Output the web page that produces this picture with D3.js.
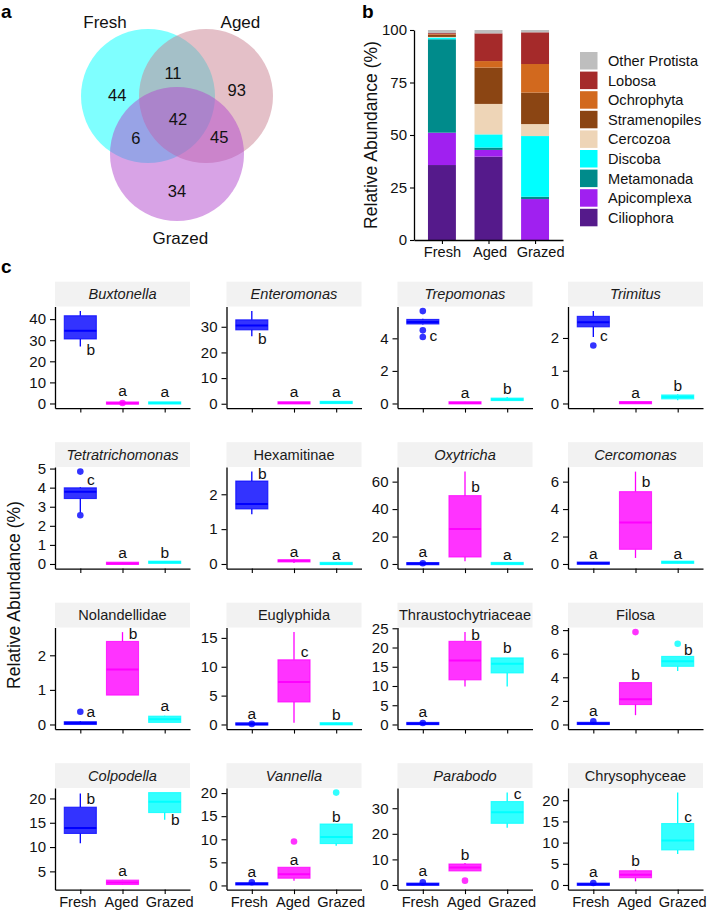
<!DOCTYPE html>
<html><head><meta charset="utf-8">
<script src="https://cdn.jsdelivr.net/npm/d3@7"></script>
<style>
body{margin:0;background:#fff}
svg{display:block}
text{font-family:"Liberation Sans",Arial,Helvetica,sans-serif}
</style>
</head><body>
<svg id="chart" width="708" height="914"></svg>
<script>
// ================= DATA =================
const groups = ["Fresh", "Aged", "Grazed"];
const groupColors = ["#0000FF", "#FF00FF", "#00FFFF"];

// (a) Venn diagram
const vennSets = ["Fresh", "Aged", "Grazed"];
const vennColors = ["#00FFFF", "#C98191", "#B147CD"];
const vennRegionKeys = ["100", "010", "001", "110", "101", "011", "111"];
const vennRegionCounts = [44, 93, 34, 11, 6, 45, 42];

// (b) stacked bars (relative abundance, %)
const phyla = ["Ciliophora", "Apicomplexa", "Metamonada", "Discoba", "Cercozoa",
  "Stramenopiles", "Ochrophyta", "Lobosa", "Other Protista"];
const phylaColors = ["#551A8B", "#A020F0", "#008B8B", "#00FFFF", "#EED5B7",
  "#8B4513", "#D2691E", "#A52A2A", "#BEBEBE"];
const freshAbund  = [35.7, 15.4, 44.5, 0.8, 0.3, 1.0, 0.3, 0.5, 1.5];
const agedAbund   = [39.7, 3.2, 1.1, 6.3, 14.5, 17.3, 3.1, 13.2, 1.6];
const grazedAbund = [0.0, 19.5, 1.1, 28.9, 5.7, 15.0, 13.6, 15.1, 1.1];
const barTicks = [0, 25, 50, 75, 100];

// (c) box plots
const taxa = ["Buxtonella", "Enteromonas", "Trepomonas", "Trimitus",
  "Tetratrichomonas", "Hexamitinae", "Oxytricha", "Cercomonas",
  "Nolandellidae", "Euglyphida", "Thraustochytriaceae", "Filosa",
  "Colpodella", "Vannella", "Parabodo", "Chrysophyceae"];
const taxaItalic = [1, 1, 1, 1, 1, 0, 1, 1, 0, 0, 0, 0, 1, 1, 1, 0];
// [lower whisker, Q1, median, Q3, upper whisker] for Fresh, Aged, Grazed
const boxStats = [
  [[27.0, 30.6, 34.5, 41.6, 43.8], [0, 0, 0.1, 0.4, 0.6], [0, 0, 0.2, 0.5, 0.6]],
  [[26.3, 28.8, 30.5, 32.7, 36.1], [0.1, 0.1, 0.3, 0.6, 0.6], [0.2, 0.2, 0.5, 0.8, 0.8]],
  [[4.85, 4.88, 5.0, 5.16, 5.2], [0, 0, 0.03, 0.08, 0.1], [0.15, 0.18, 0.25, 0.33, 0.4]],
  [[2.03, 2.34, 2.48, 2.66, 2.82], [0, 0, 0.02, 0.05, 0.06], [0.1, 0.14, 0.2, 0.26, 0.28]],
  [[2.7, 3.43, 3.78, 3.99, 4.04], [0, 0.01, 0.03, 0.06, 0.08], [0.05, 0.06, 0.09, 0.12, 0.14]],
  [[1.43, 1.58, 1.72, 2.38, 2.65], [0.03, 0.06, 0.09, 0.12, 0.15], [0, 0, 0.01, 0.03, 0.04]],
  [[0, 0, 0.2, 0.5, 0.6], [2.0, 5.1, 25.4, 49.8, 67.3], [0, 0.1, 0.3, 0.6, 0.7]],
  [[0, 0.02, 0.05, 0.1, 0.12], [0.44, 1.07, 3.02, 5.27, 6.73], [0.05, 0.07, 0.12, 0.18, 0.2]],
  [[0, 0, 0.04, 0.08, 0.1], [0.85, 0.85, 1.59, 2.40, 2.67], [0.06, 0.06, 0.15, 0.24, 0.25]],
  [[0, 0, 0.05, 0.2, 0.3], [0.29, 3.9, 7.36, 11.2, 16.0], [0, 0, 0.1, 0.25, 0.3]],
  [[0, 0.1, 0.2, 0.4, 0.5], [9.9, 11.6, 16.6, 21.6, 24.0], [9.9, 13.4, 15.8, 17.3, 17.3]],
  [[0, 0.03, 0.08, 0.15, 0.2], [0.79, 1.69, 2.14, 3.55, 3.55], [4.54, 4.93, 5.35, 5.77, 5.77]],
  [[10.8, 12.8, 13.9, 18.2, 21.0], [2.2, 2.3, 2.7, 3.2, 3.3], [15.6, 17.1, 19.3, 21.2, 21.2]],
  [[0.1, 0.1, 0.3, 0.6, 0.7], [1.0, 1.57, 2.43, 3.93, 3.93], [8.6, 9.07, 10.5, 13.3, 13.3]],
  [[0, 0.1, 0.3, 0.5, 0.6], [5.5, 5.5, 6.8, 8.2, 8.6], [22.4, 24.1, 28.4, 32.6, 36.1]],
  [[0, 0.05, 0.15, 0.3, 0.4], [0.86, 1.72, 2.42, 3.36, 3.6], [7.3, 8.28, 10.5, 14.5, 21.8]]
];
const outliers = [
  [[], [0.2], []], [[], [], []], [[5.67, 4.49, 4.08], [], []], [[1.77], [], []],
  [[4.84, 2.55], [], []], [[], [], []], [[0.5], [], []], [[], [], []],
  [[0.37], [], []], [[0.1], [], []], [[0.4], [], []], [[0.28], [7.83], [6.85]],
  [[], [], []], [[0.7], [9.5], [20.1]], [[1.0], [1.7], []], [[0.47], [], []]
];
const letters = [
  ["b", "a", "a"], ["b", "a", "a"], ["c", "a", "b"], ["c", "a", "b"],
  ["c", "a", "b"], ["b", "a", "a"], ["a", "b", "a"], ["a", "b", "a"],
  ["a", "b", "a"], ["a", "c", "b"], ["a", "b", "b"], ["a", "b", "b"],
  ["b", "a", "b"], ["a", "a", "b"], ["a", "b", "c"], ["a", "b", "c"]
];
const letterY = [
  [25.4, 6.1, 5.8], [25.4, 4.8, 4.8], [4.2, 0.69, 0.94], [2.07, 0.35, 0.54],
  [4.42, 0.58, 0.6], [2.59, 0.37, 0.28], [9.3, 56.3, 6.8], [0.8, 6.0, 0.8],
  [0.37, 2.64, 0.55], [2.0, 12.6, 1.8], [3.3, 23.4, 19.9], [1.15, 4.25, 6.34],
  [20.0, 5.1, 15.6], [3.0, 5.7, 14.9], [5.5, 12.0, 35.6], [3.2, 5.7, 16.3]
];
// 1 = letter written beside (right of) the box rather than centred
const letterBeside = [
  [1, 0, 0], [1, 0, 0], [1, 0, 0], [1, 0, 0],
  [1, 0, 0], [1, 0, 0], [0, 1, 0], [0, 1, 0],
  [1, 1, 0], [0, 1, 0], [0, 1, 0], [0, 0, 1],
  [1, 0, 1], [0, 0, 0], [0, 0, 1], [0, 0, 1]
];
const yTicks = [
  [0, 10, 20, 30, 40], [0, 10, 20, 30], [0, 2, 4], [0, 1, 2],
  [0, 1, 2, 3, 4, 5], [0, 1, 2], [0, 20, 40, 60], [0, 2, 4, 6],
  [0, 1, 2], [0, 5, 10, 15], [0, 5, 10, 15, 20, 25], [0, 2, 4, 6, 8],
  [5, 10, 15, 20], [0, 5, 10, 15, 20], [0, 10, 20, 30], [0, 5, 10, 15, 20]
];

// ================= DRAW =================
const FONT = '"Liberation Sans", Arial, Helvetica, sans-serif';
const svg = d3.select("#chart");
const TXT = "#111";
const fmt = d3.format("~g");

function panelLabel(t, x, y) {
  svg.append("text").attr("x", x).attr("y", y).text(t)
    .attr("font-weight", "bold").attr("font-size", 19).attr("fill", "#000");
}
panelLabel("a", 1, 18);
panelLabel("b", 362, 18);
panelLabel("c", 1, 273);

// ---------- (a) Venn ----------
const vennR = 67;
const vennCenters = [[148, 96], [206, 96], [177, 154]];
const vg = svg.append("g");
vennSets.forEach((s, i) => {
  vg.append("circle").attr("cx", vennCenters[i][0]).attr("cy", vennCenters[i][1])
    .attr("r", vennR).attr("fill", vennColors[i]).attr("fill-opacity", 0.5);
});
// region centroids by sampling, with small label nudges
const acc = {};
for (let x = 75; x <= 280; x += 1) {
  for (let y = 25; y <= 225; y += 1) {
    const key = vennCenters.map(c => ((x - c[0]) ** 2 + (y - c[1]) ** 2 <= vennR * vennR) ? "1" : "0").join("");
    if (key === "000") continue;
    if (!acc[key]) acc[key] = [0, 0, 0];
    acc[key][0] += x; acc[key][1] += y; acc[key][2] += 1;
  }
}
const vennNudge = { "100": [0, 16], "010": [0, 11], "001": [0, 6], "110": [-4, 4], "101": [-1, -1], "011": [2, -2], "111": [1, 2] };
vennRegionKeys.forEach((k, i) => {
  const a = acc[k], n = vennNudge[k];
  vg.append("text").attr("x", a[0] / a[2] + n[0]).attr("y", a[1] / a[2] + n[1]).attr("dy", "0.36em")
    .attr("text-anchor", "middle").attr("font-size", 16.5).attr("fill", TXT)
    .text(vennRegionCounts[i]);
});
const vennLabelDir = [[-0.5, -0.866, 86], [0.42, -0.906, 82], [0.04, 1, 84]];
vennSets.forEach((s, i) => {
  const d = vennLabelDir[i];
  vg.append("text").attr("x", vennCenters[i][0] + d[0] * d[2])
    .attr("y", vennCenters[i][1] + d[1] * d[2]).attr("dy", "0.36em")
    .attr("text-anchor", "middle").attr("font-size", 17).attr("fill", TXT).text(s);
});

// ---------- (b) stacked bars ----------
const bx = d3.scalePoint().domain(groups).range([414, 563]).padding(0.6);
const by = d3.scaleLinear().domain([0, 100]).range([240, 30]);
const barW = bx.step() * 0.6;
const abundByGroup = [freshAbund, agedAbund, grazedAbund];
const barRows = groups.map((g, i) => {
  const o = { group: g };
  phyla.forEach((p, j) => { o[p] = abundByGroup[i][j]; });
  return o;
});
const stacked = d3.stack().keys(phyla)(barRows);
const bg = svg.append("g");
stacked.forEach((layer, li) => {
  bg.append("g").attr("fill", phylaColors[li]).selectAll("rect").data(layer).join("rect")
    .attr("x", d => bx(d.data.group) - barW / 2).attr("width", barW)
    .attr("y", d => by(d[1])).attr("height", d => Math.max(0, by(d[0]) - by(d[1])));
});
function styleAxis(g, fs) {
  g.attr("font-family", FONT).attr("font-size", fs);
  g.selectAll("path.domain").attr("stroke", "#000").attr("stroke-width", 1.3);
  g.selectAll(".tick line").attr("stroke", "#000").attr("stroke-width", 1.1);
  g.selectAll(".tick text").attr("fill", TXT);
}
// x labels in the reference are spread a little apart from the tick marks
const xLabelNudge = [-3, -1.5, 4.5];
const byAxis = bg.append("g").attr("transform", "translate(414,0)")
  .call(d3.axisLeft(by).tickValues(barTicks).tickFormat(fmt).tickSize(4).tickSizeOuter(0).tickPadding(3));
styleAxis(byAxis, 15);
const bxAxis = bg.append("g").attr("transform", "translate(0,240)")
  .call(d3.axisBottom(bx).tickSize(4).tickSizeOuter(0).tickPadding(3));
styleAxis(bxAxis, 14.6);
bxAxis.selectAll(".tick text").attr("dx", (d, k) => [0, 1, 5][k]);
bg.append("text").attr("transform", "translate(371,135) rotate(-90)")
  .attr("text-anchor", "middle").attr("dy", "0.36em").attr("font-size", 17.5)
  .attr("fill", TXT).text("Relative Abundance (%)");
// legend
const legItems = phyla.map((p, i) => ({ name: p, color: phylaColors[i] })).reverse();
const lg = bg.append("g");
legItems.forEach((it, i) => {
  const y0 = 52 + i * 19.6;
  lg.append("rect").attr("x", 580).attr("y", y0).attr("width", 17.5).attr("height", 17.5)
    .attr("fill", it.color);
  lg.append("text").attr("x", 608).attr("y", y0 + 8.8).attr("dy", "0.36em")
    .attr("font-size", 14.6).attr("fill", TXT).text(it.name);
});

// ---------- (c) faceted box plots ----------
const colX = [55, 226.5, 397.5, 568];
const panelW = 135;
const stripTop0 = 281.7, rowStep = 160.5, stripH = 24.8, panelH = 101.6;
const cg = svg.append("g");

taxa.forEach((name, i) => {
  const r = Math.floor(i / 4), c = i % 4;
  const x0 = colX[c];
  const sTop = stripTop0 + r * rowStep;
  const pTop = sTop + stripH, pBot = pTop + panelH;
  const g = cg.append("g");

  // strip
  g.append("rect").attr("x", x0).attr("y", sTop).attr("width", panelW).attr("height", stripH)
    .attr("fill", "#F2F2F2");
  g.append("text").attr("x", x0 + panelW / 2).attr("y", sTop + stripH / 2).attr("dy", "0.36em")
    .attr("text-anchor", "middle").attr("font-size", 14.6).attr("fill", "#1a1a1a")
    .attr("font-style", taxaItalic[i] ? "italic" : "normal").text(name);

  // scales
  const vals = [];
  boxStats[i].forEach(b => vals.push(...b));
  outliers[i].forEach(o => vals.push(...o));
  vals.push(...letterY[i]);
  const mn = d3.min(vals), mx = d3.max(vals), ex = (mx - mn) * 0.05;
  const y = d3.scaleLinear().domain([mn - ex, mx + ex]).range([pBot, pTop]);
  const x = d3.scalePoint().domain(groups).range([x0, x0 + panelW]).padding(0.6);
  const bw = x.step() * 0.76;

  groups.forEach((grp, gi) => {
    const col = groupColors[gi];
    const [lw, q1, med, q3, uw] = boxStats[i][gi];
    const cx = x(grp);
    g.append("line").attr("x1", cx).attr("x2", cx).attr("y1", y(lw)).attr("y2", y(q1))
      .attr("stroke", col).attr("stroke-width", 1.3);
    g.append("line").attr("x1", cx).attr("x2", cx).attr("y1", y(q3)).attr("y2", y(uw))
      .attr("stroke", col).attr("stroke-width", 1.3);
    const hRaw = y(q1) - y(q3);
    const h = Math.max(2.2, hRaw);
    const yTop = (y(q1) + y(q3)) / 2 - h / 2;
    g.append("rect").attr("x", cx - bw / 2).attr("width", bw)
      .attr("y", yTop).attr("height", h)
      .attr("fill", col).attr("fill-opacity", 0.8)
      .attr("stroke", col).attr("stroke-opacity", 0.75).attr("stroke-width", 1.1);
    g.append("line").attr("x1", cx - bw / 2).attr("x2", cx + bw / 2)
      .attr("y1", y(med)).attr("y2", y(med)).attr("stroke", col).attr("stroke-width", 2);
    outliers[i][gi].forEach(v => {
      g.append("circle").attr("cx", cx).attr("cy", y(v)).attr("r", 3.3)
        .attr("fill", col).attr("fill-opacity", 0.8);
    });
    g.append("text").attr("x", cx + (letterBeside[i][gi] ? 10.5 : 0)).attr("y", y(letterY[i][gi]))
      .attr("dy", "0.36em").attr("text-anchor", "middle").attr("font-size", 15.5)
      .attr("fill", TXT).text(letters[i][gi]);
  });

  const ya = g.append("g").attr("transform", `translate(${x0},0)`)
    .call(d3.axisLeft(y).tickValues(yTicks[i]).tickFormat(fmt).tickSize(5).tickSizeOuter(0).tickPadding(4));
  styleAxis(ya, 15);
  const xa = g.append("g").attr("transform", `translate(0,${pBot})`)
    .call(d3.axisBottom(x).tickSize(4.5).tickSizeOuter(0).tickPadding(3)
      .tickFormat(r === 3 ? (d => d) : () => ""));
  styleAxis(xa, 14.6);
  if (r === 3) xa.selectAll(".tick text").attr("dx", (d, k) => xLabelNudge[k]);
});

cg.append("text").attr("transform", "translate(14,595) rotate(-90)")
  .attr("text-anchor", "middle").attr("dy", "0.36em").attr("font-size", 17.5)
  .attr("fill", TXT).text("Relative Abundance (%)");
</script>
</body></html>
